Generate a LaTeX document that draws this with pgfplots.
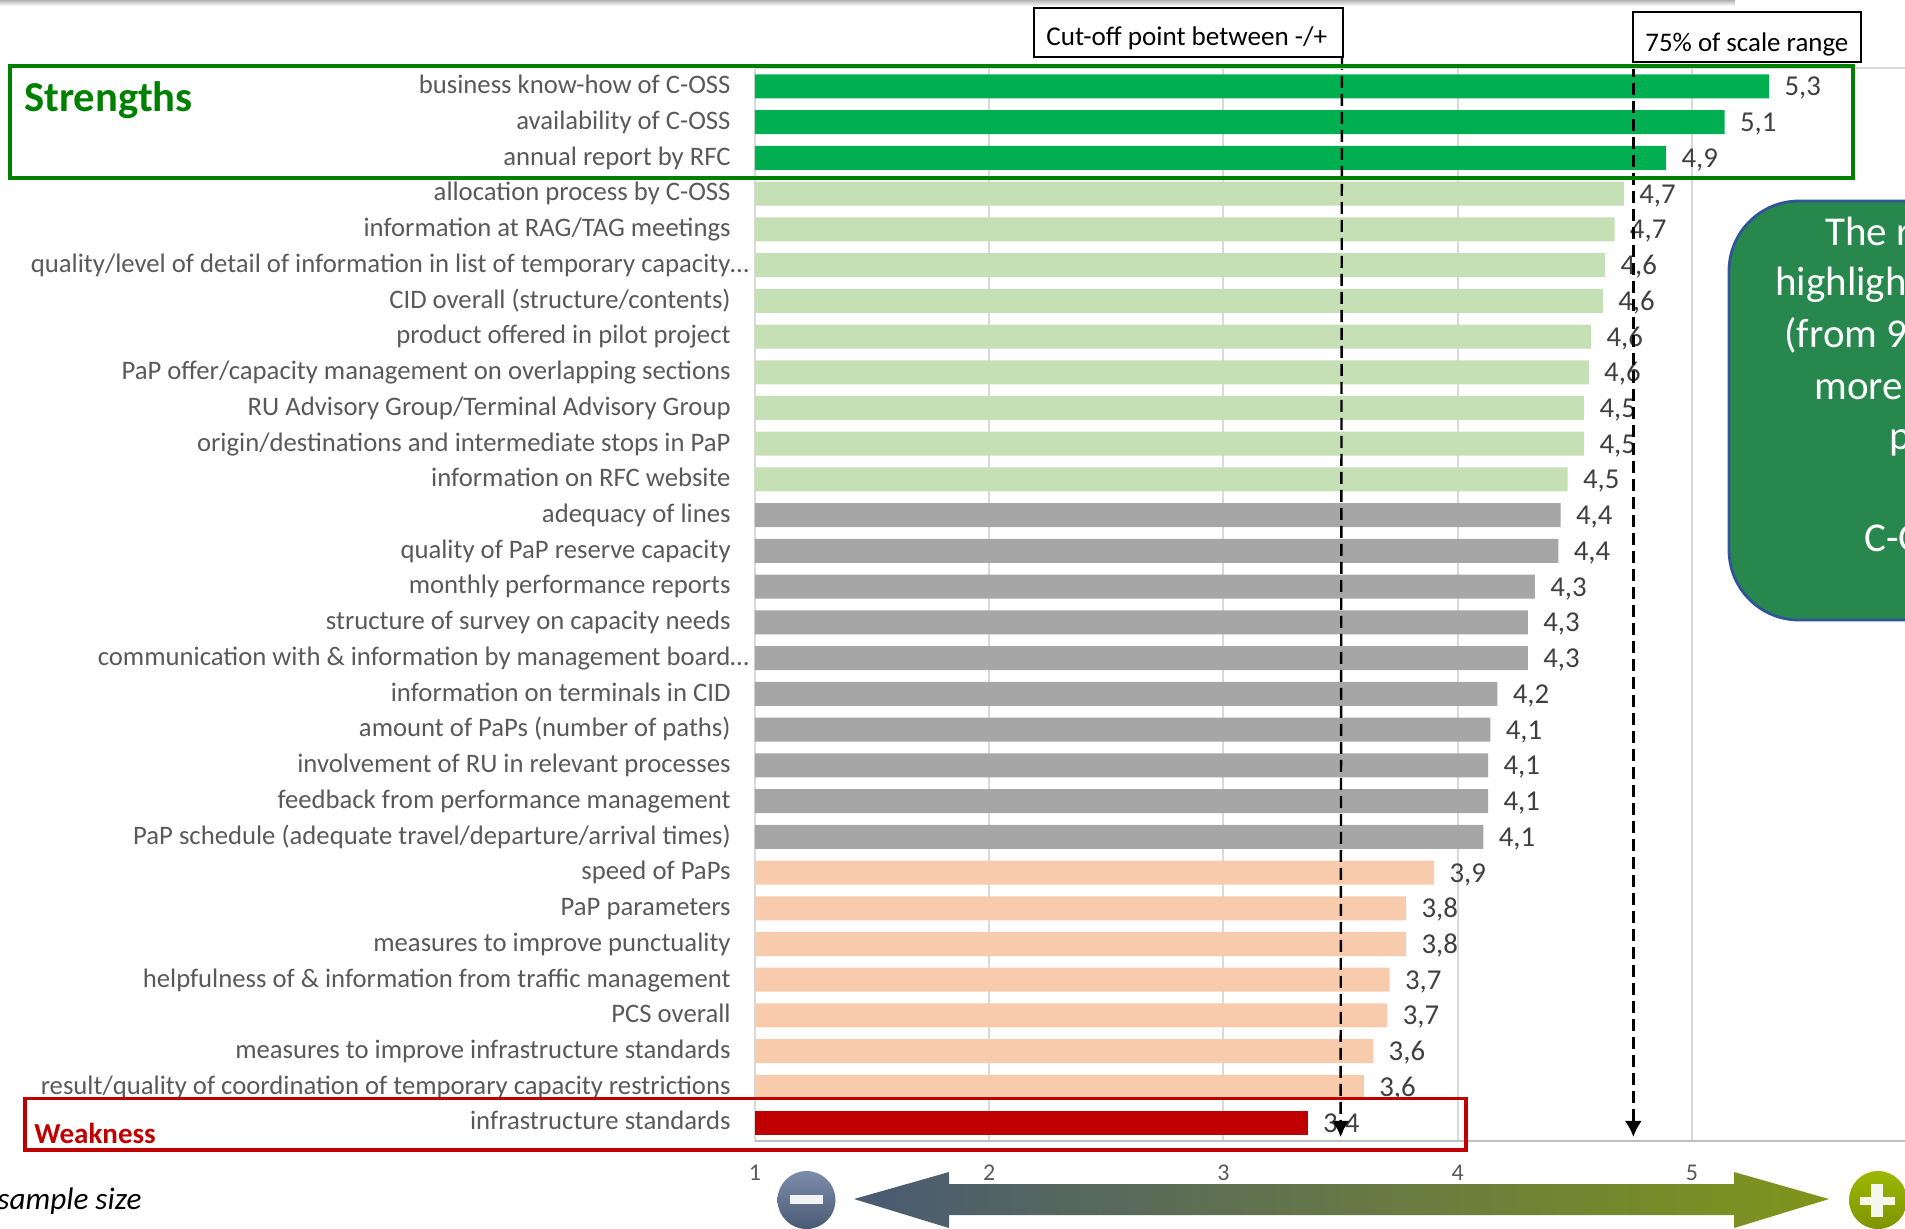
\documentclass[border=0pt]{standalone}
\usepackage{pgfplots}
\pgfplotsset{compat=1.18}
\usepackage{fontspec}
\setmainfont{Carlito}
\usetikzlibrary{arrows.meta}

\definecolor{strong}{HTML}{00B050}
\definecolor{good}{HTML}{C5E0B4}
\definecolor{mid}{HTML}{A6A6A6}
\definecolor{low}{HTML}{F8CBAD}
\definecolor{weak}{HTML}{C00000}
\definecolor{boxgreen}{HTML}{008000}
\definecolor{labelgrey}{HTML}{595959}
\definecolor{valuegrey}{HTML}{404040}
\definecolor{gridgrey}{HTML}{D9D9D9}
\definecolor{slate}{HTML}{4A5A73}
\definecolor{olive}{HTML}{80951A}

\pgfplotsset{
  surveygeometry/.style={
    scale only axis,
    width=575pt,
    height=536pt,
    at={(377.5pt,-570.25pt)},
    anchor=south west,
    xmin=1, xmax=5.91,
    ymin=-0.5, ymax=29.5,
    y dir=reverse,
  },
}

\begin{document}
\begin{tikzpicture}
\useasboundingbox (0,0) rectangle (952.5pt,-614pt);
\clip (0,0) rectangle (952.5pt,-614pt);

% satisfaction scores per survey item
\begin{axis}[
  surveygeometry,
  xbar,
  bar shift=0pt,
  bar width=12pt,
  axis line style={draw=none},
  major tick length=0pt,
  xtick={1,2,3,4,5},
  ytick={0,...,29},
  xmajorgrids,
  major grid style={draw=gridgrey,line width=1pt},
  /pgf/number format/assume math mode=true,
  xticklabel style={font=\fontsize{12}{14}\selectfont,text=labelgrey,inner sep=0pt,yshift=-12pt},
  yticklabel style={font=\fontsize{13.35}{16}\selectfont,text=labelgrey,anchor=east,inner sep=0pt,
    text height=9.5pt,text depth=3pt,xshift=-12pt,yshift=-0.4pt},
  yticklabels={
    business know-how of C-OSS,
    availability of C-OSS,
    annual report by RFC,
    allocation process by C-OSS,
    information at RAG/TAG meetings,
    quality/level of detail of information in list of temporary capacity\rlap{…},
    CID overall (structure/contents),
    product offered in pilot project,
    PaP offer/capacity management on overlapping sections,
    RU Advisory Group/Terminal Advisory Group,
    origin/destinations and intermediate stops in PaP,
    information on RFC website,
    adequacy of lines,
    quality of PaP reserve capacity,
    monthly performance reports,
    structure of survey on capacity needs,
    communication with \& information by management board\rlap{…},
    information on terminals in CID,
    amount of PaPs (number of paths),
    involvement of RU in relevant processes,
    feedback from performance management,
    PaP schedule (adequate travel/departure/arrival times),
    speed of PaPs,
    PaP parameters,
    measures to improve punctuality,
    helpfulness of \& information from traffic management,
    PCS overall,
    measures to improve infrastructure standards,
    result/quality of coordination of temporary capacity restrictions,
    infrastructure standards},
  point meta=x,
  nodes near coords={\pgfmathprintnumber[fixed,precision=1,zerofill,use comma]{\pgfplotspointmeta}},
  every node near coord/.append style={font=\fontsize{14.4}{16}\selectfont,text=valuegrey,anchor=west,
    inner sep=0pt,xshift=7.5pt,yshift=-1pt,text height=9.5pt,text depth=2pt},
]
\addplot[fill=strong,draw=none] coordinates {(5.33,0) (5.14,1) (4.89,2)};
\addplot[fill=good,draw=none] coordinates {(4.71,3) (4.67,4) (4.63,5) (4.62,6) (4.57,7)
  (4.56,8) (4.54,9) (4.54,10) (4.47,11)};
\addplot[fill=mid,draw=none] coordinates {(4.44,12) (4.43,13) (4.33,14) (4.30,15) (4.30,16)
  (4.17,17) (4.14,18) (4.13,19) (4.13,20) (4.11,21)};
\addplot[fill=low,draw=none] coordinates {(3.90,22) (3.78,23) (3.78,24) (3.71,25) (3.70,26)
  (3.64,27) (3.60,28)};
\addplot[fill=weak,draw=none] coordinates {(3.36,29)};
\end{axis}

% cut-off and 75 % reference lines, running up to their captions
\begin{axis}[
  surveygeometry,
  hide axis,
  clip=false,
]
\addplot[black,line width=1.2pt,dash pattern=on 6pt off 3pt,
  -{Latex[length=8pt,width=8.5pt]}] coordinates {(3.506,-0.8) (3.5,29.4)};
\addplot[black,line width=1.2pt,dash pattern=on 6pt off 3pt,
  -{Latex[length=8pt,width=8.5pt]}] coordinates {(4.75,-0.6) (4.75,29.4)};
\end{axis}

% everything around the plot, in units of one pixel from the top left corner
\begin{scope}[x=0.5pt,y=-0.5pt]
  \shade[top color=black!30,bottom color=white] (0,0) rectangle (1735,6);

  % axis frame lines
  \draw[gridgrey,line width=0.8pt] (755,68) -- (1905,68);
  \draw[black!25,line width=1pt] (755,1140.5) -- (1905,1140.5);

  % captions of the reference lines
  \draw[black,line width=1.25pt,fill=white] (1034,8) rectangle (1343,57);
  \node[anchor=base west,inner sep=0pt,font=\fontsize{13.55}{16}\selectfont] at (1046,45) {Cut-off point between -/+};
  \draw[black,line width=1.25pt,fill=white] (1633,12) rectangle (1861,62);
  \node[anchor=base west,inner sep=0pt,font=\fontsize{13.45}{16}\selectfont] at (1645,51) {75\% of scale range};

  % highlighted groups
  \draw[boxgreen,line width=1.8pt] (10,66) rectangle (1853,178);
  \node[anchor=base west,inner sep=0pt,text=boxgreen,font=\fontsize{21.3}{24}\selectfont\bfseries] at (24,111) {Strengths};
  \draw[weak,line width=1.8pt] (25,1098.5) rectangle (1466,1150);
  \node[anchor=base west,inner sep=0pt,text=weak,font=\fontsize{14.5}{16}\selectfont\bfseries] at (34,1143.5) {Weakness};

  % side remark
  \draw[fill={rgb,255:red,39;green,135;blue,77},draw={rgb,255:red,47;green,85;blue,151},line width=1.4pt,rounded corners=35pt]
    (1729,201) rectangle (2200,620);
  \foreach \px/\py/\txt in {1825/245/The r,1775/295.5/highligh,1784/347.5/(from 9,1814/399/more,1889/449/p,1864/551/C-OSS}
    \node[anchor=base west,inner sep=0pt,text=white,font=\fontsize{20.5}{24}\selectfont] at (\px,\py) {\txt};

  \node[anchor=base east,inner sep=0pt,font=\fontsize{15.6}{18}\selectfont\itshape] at (142,1209) {sample size};

  % scale direction arrow with its minus and plus buttons
  \shade[left color=slate,right color=olive]
    (854,1199) -- (949,1172) -- (949,1184) -- (1734,1184) -- (1734,1172) -- (1829,1199)
    -- (1734,1228) -- (1734,1215) -- (949,1215) -- (949,1228) -- cycle;
  \shade[top color={rgb,255:red,124;green,141;blue,171},bottom color=slate] (806.5,1200) circle (29);
  \fill[white!92!slate] (790,1195) rectangle (823,1204);
  \shade[top color={rgb,255:red,157;green,184;blue,0},bottom color={rgb,255:red,126;green,148;blue,0}] (1878,1200) circle (29);
  \fill[white!92!olive] (1860,1197) rectangle (1895,1205);
  \fill[white!92!olive] (1871,1184) rectangle (1883,1217);
\end{scope}
\end{tikzpicture}
\end{document}
